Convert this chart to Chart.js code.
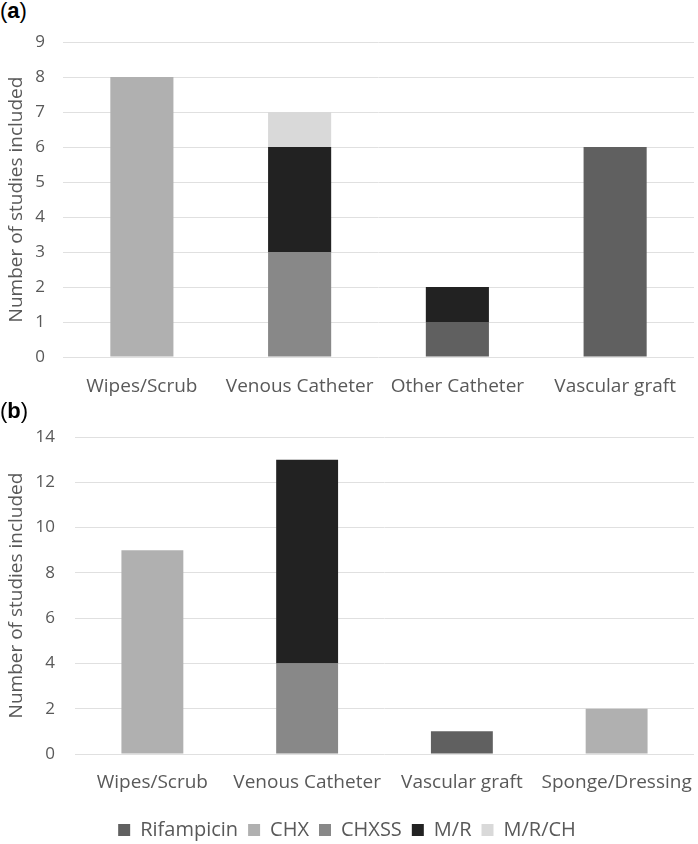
<!DOCTYPE html>
<html>
<head>
<meta charset="utf-8">
<script src="https://cdn.jsdelivr.net/npm/chart.js@4"></script>
<style>
  body { margin: 0; background: #fff; width: 698px; height: 844px; position: relative; overflow: hidden; }
  .panel { position: absolute; left: 0; width: 698px; }
  .tag { position: absolute; left: 0; font-family: "Liberation Sans", Arial, sans-serif; font-size: 22px; color: #000; }
</style>
</head>
<body>
<div class="tag" style="top:-2px">(<b>a</b>)</div>
<div class="panel" style="top:0;height:400px"><canvas id="chartA" width="698" height="400"></canvas></div>
<div class="tag" style="top:398px">(<b>b</b>)</div>
<div class="panel" style="top:400px;height:450px"><canvas id="chartB" width="698" height="450"></canvas></div>
<script>
const seriesNames = ['Rifampicin', 'CHX', 'CHXSS', 'M/R', 'M/R/CH']
const seriesColors = ['#606060', '#b0b0b0', '#888888', '#222222', '#d9d9d9']

// panel (a)
const catsA = ['Wipes/Scrub', 'Venous Catheter', 'Other Catheter', 'Vascular graft']
const rifampicinA = [0, 0, 1, 6]
const chxA = [8, 0, 0, 0]
const chxssA = [0, 3, 0, 0]
const mrA = [0, 3, 1, 0]
const mrchA = [0, 1, 0, 0]

// panel (b)
const catsB = ['Wipes/Scrub', 'Venous Catheter', 'Vascular graft', 'Sponge/Dressing']
const rifampicinB = [0, 0, 1, 0]
const chxB = [9, 0, 0, 2]
const chxssB = [0, 4, 0, 0]
const mrB = [0, 9, 0, 0]
const mrchB = [0, 0, 0, 0]

const fontFamily = '"Open Sans", sans-serif'
const textGrey = '#595959'

function makeDatasets(lists) {
    return lists.map((vals, i) => ({
        label: seriesNames[i],
        data: vals,
        backgroundColor: seriesColors[i],
        borderWidth: 0,
        categoryPercentage: 1,
        barPercentage: 0.4
    }))
}

function makeOptions(cfg) {
    return {
        responsive: false,
        animation: false,
        layout: { padding: cfg.padding },
        plugins: {
            legend: cfg.legend,
            tooltip: { enabled: false }
        },
        scales: {
            x: {
                stacked: true,
                grid: { display: false, drawTicks: false },
                border: { display: false },
                ticks: {
                    color: textGrey, padding: cfg.xPad,
                    maxRotation: 0, minRotation: 0, autoSkip: false,
                    font: { family: fontFamily, size: 19 }
                },
                afterFit: (s) => {
                    s.height = cfg.xHeight
                    s.paddingLeft = 0
                    s.paddingRight = 0
                }
            },
            y: {
                stacked: true,
                min: 0,
                max: cfg.yMax,
                grid: { color: '#e0e0e0', lineWidth: 1, drawTicks: false },
                border: { display: false },
                ticks: { stepSize: cfg.step, color: textGrey, padding: cfg.yPad, font: { family: fontFamily, size: 17 } },
                title: {
                    display: true,
                    text: 'Number of studies included',
                    color: textGrey,
                    padding: { top: 5, bottom: 0 },
                    font: { family: fontFamily, size: 19 }
                },
                afterFit: (s) => { s.width = cfg.yWidth }
            }
        }
    }
}

new Chart(document.getElementById('chartA'), {
    type: 'bar',
    data: {
        labels: catsA,
        datasets: makeDatasets([rifampicinA, chxA, chxssA, mrA, mrchA])
    },
    options: makeOptions({
        padding: { top: 42, right: 4, bottom: 0, left: 0 },
        legend: { display: false },
        xHeight: 43, xPad: 18,
        yMax: 9, step: 1, yPad: 18, yWidth: 63
    })
})

new Chart(document.getElementById('chartB'), {
    type: 'bar',
    data: {
        labels: catsB,
        datasets: makeDatasets([rifampicinB, chxB, chxssB, mrB, mrchB])
    },
    options: makeOptions({
        padding: { top: 37, right: 4, bottom: 0, left: 0 },
        legend: {
            display: true,
            position: 'bottom',
            labels: {
                boxWidth: 12, boxHeight: 12, padding: 10,
                color: textGrey,
                font: { family: fontFamily, size: 20 }
            }
        },
        xHeight: 56, xPad: 17,
        yMax: 14, step: 2, yPad: 20, yWidth: 75
    })
})
</script>
</body>
</html>
